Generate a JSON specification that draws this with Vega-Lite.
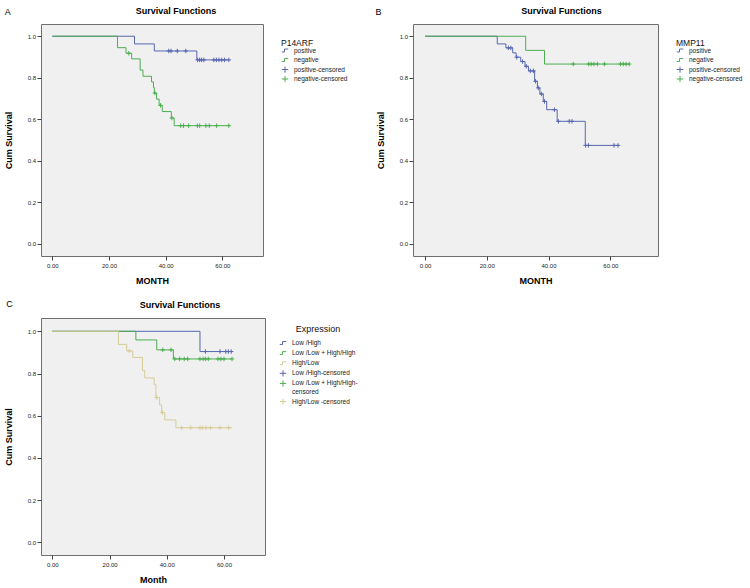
{
  "$schema": "https://vega.github.io/schema/vega-lite/v6.json",
  "autosize": {"type": "none"},
  "padding": {"left": 41, "top": 24, "right": 709, "bottom": 564},
  "background": "white",
  "bounds": "flush",
  "columns": 2,
  "spacing": {"row": 62, "column": 148},
  "config": {
    "font": "Liberation Sans",
    "view": {"fill": "#f0f0f0", "stroke": "#6e6e6e", "strokeWidth": 1},
    "axis": {"domain": false, "grid": false, "ticks": true, "tickSize": 4, "tickColor": "#444444", "labelFontSize": 6, "labelColor": "#222222", "labelPadding": 1.5, "titleFontSize": 9, "titleFontWeight": "bold", "titleColor": "#000000"},
    "axisY": {"titlePadding": 14},
    "axisX": {"titlePadding": 8, "labelPadding": 2},
    "title": {"fontSize": 9, "fontWeight": "bold", "color": "#000000", "anchor": "middle"},
    "legend": {"labelFontSize": 6.5, "titleFontSize": 8.5, "titleFontWeight": "normal", "labelColor": "#222222", "titleColor": "#111111", "symbolStrokeWidth": 1, "symbolSize": 42, "rowPadding": 2.5, "labelOffset": 5, "orient": "right", "padding": 15, "offset": 2.7, "titlePadding": 0, "clipHeight": 6}
  },
  "datasets": {
    "A_steps": [
      {"t": 0, "s": 1, "g": "positive"}, {"t": 29, "s": 0.963, "g": "positive"}, {"t": 36, "s": 0.929, "g": "positive"}, {"t": 51, "s": 0.886, "g": "positive"}, {"t": 62.3, "s": 0.886, "g": "positive"},
      {"t": 0, "s": 1, "g": "negative"}, {"t": 23, "s": 0.945, "g": "negative"}, {"t": 26, "s": 0.918, "g": "negative"}, {"t": 28, "s": 0.891, "g": "negative"}, {"t": 31, "s": 0.837, "g": "negative"}, {"t": 32, "s": 0.807, "g": "negative"}, {"t": 35, "s": 0.78, "g": "negative"}, {"t": 35.7, "s": 0.753, "g": "negative"}, {"t": 36, "s": 0.726, "g": "negative"}, {"t": 36.8, "s": 0.697, "g": "negative"}, {"t": 37.7, "s": 0.667, "g": "negative"}, {"t": 38.8, "s": 0.637, "g": "negative"}, {"t": 42, "s": 0.606, "g": "negative"}, {"t": 43, "s": 0.569, "g": "negative"}, {"t": 62.3, "s": 0.569, "g": "negative"}
    ],
    "A_cens": [
      {"t": 41.1, "s": 0.929, "g": "positive-censored"}, {"t": 41.9, "s": 0.929, "g": "positive-censored"}, {"t": 44.1, "s": 0.929, "g": "positive-censored"}, {"t": 47.1, "s": 0.929, "g": "positive-censored"},
      {"t": 51.3, "s": 0.886, "g": "positive-censored"}, {"t": 52, "s": 0.886, "g": "positive-censored"}, {"t": 52.7, "s": 0.886, "g": "positive-censored"}, {"t": 53.5, "s": 0.886, "g": "positive-censored"}, {"t": 57, "s": 0.886, "g": "positive-censored"}, {"t": 57.9, "s": 0.886, "g": "positive-censored"}, {"t": 58.8, "s": 0.886, "g": "positive-censored"}, {"t": 59.8, "s": 0.886, "g": "positive-censored"}, {"t": 60.8, "s": 0.886, "g": "positive-censored"}, {"t": 62.3, "s": 0.886, "g": "positive-censored"},
      {"t": 27, "s": 0.918, "g": "negative-censored"}, {"t": 36.2, "s": 0.726, "g": "negative-censored"}, {"t": 38.2, "s": 0.667, "g": "negative-censored"}, {"t": 42.2, "s": 0.606, "g": "negative-censored"},
      {"t": 45.3, "s": 0.569, "g": "negative-censored"}, {"t": 46.3, "s": 0.569, "g": "negative-censored"}, {"t": 48.1, "s": 0.569, "g": "negative-censored"}, {"t": 51.2, "s": 0.569, "g": "negative-censored"}, {"t": 52, "s": 0.569, "g": "negative-censored"}, {"t": 54.2, "s": 0.569, "g": "negative-censored"}, {"t": 55.4, "s": 0.569, "g": "negative-censored"}, {"t": 58, "s": 0.569, "g": "negative-censored"}, {"t": 62.3, "s": 0.569, "g": "negative-censored"}
    ],
    "B_steps": [
      {"t": 0, "s": 1, "g": "positive"}, {"t": 23.4, "s": 0.963, "g": "positive"}, {"t": 26.2, "s": 0.944, "g": "positive"}, {"t": 28.4, "s": 0.92, "g": "positive"}, {"t": 29.5, "s": 0.899, "g": "positive"}, {"t": 31, "s": 0.878, "g": "positive"}, {"t": 32.4, "s": 0.855, "g": "positive"}, {"t": 33.5, "s": 0.833, "g": "positive"}, {"t": 35.5, "s": 0.783, "g": "positive"}, {"t": 36.4, "s": 0.751, "g": "positive"}, {"t": 37.2, "s": 0.722, "g": "positive"}, {"t": 38.3, "s": 0.686, "g": "positive"}, {"t": 39.4, "s": 0.646, "g": "positive"}, {"t": 42.8, "s": 0.59, "g": "positive"}, {"t": 51.9, "s": 0.474, "g": "positive"}, {"t": 62.8, "s": 0.474, "g": "positive"},
      {"t": 0, "s": 1, "g": "negative"}, {"t": 32.6, "s": 0.932, "g": "negative"}, {"t": 38.7, "s": 0.866, "g": "negative"}, {"t": 66.3, "s": 0.866, "g": "negative"}
    ],
    "B_cens": [
      {"t": 27, "s": 0.944, "g": "positive-censored"}, {"t": 27.8, "s": 0.944, "g": "positive-censored"}, {"t": 29.7, "s": 0.899, "g": "positive-censored"}, {"t": 31.6, "s": 0.878, "g": "positive-censored"}, {"t": 32.8, "s": 0.855, "g": "positive-censored"}, {"t": 34.1, "s": 0.833, "g": "positive-censored"}, {"t": 35.1, "s": 0.833, "g": "positive-censored"}, {"t": 35.8, "s": 0.783, "g": "positive-censored"}, {"t": 36.7, "s": 0.751, "g": "positive-censored"}, {"t": 37.7, "s": 0.722, "g": "positive-censored"}, {"t": 38.7, "s": 0.686, "g": "positive-censored"}, {"t": 41.9, "s": 0.646, "g": "positive-censored"}, {"t": 43.2, "s": 0.59, "g": "positive-censored"}, {"t": 46.7, "s": 0.59, "g": "positive-censored"}, {"t": 47.6, "s": 0.59, "g": "positive-censored"}, {"t": 52, "s": 0.474, "g": "positive-censored"}, {"t": 52.9, "s": 0.474, "g": "positive-censored"}, {"t": 61.2, "s": 0.474, "g": "positive-censored"}, {"t": 62.5, "s": 0.474, "g": "positive-censored"},
      {"t": 48, "s": 0.866, "g": "negative-censored"}, {"t": 53, "s": 0.866, "g": "negative-censored"}, {"t": 53.8, "s": 0.866, "g": "negative-censored"}, {"t": 54.7, "s": 0.866, "g": "negative-censored"}, {"t": 55.8, "s": 0.866, "g": "negative-censored"}, {"t": 58.1, "s": 0.866, "g": "negative-censored"}, {"t": 63.3, "s": 0.866, "g": "negative-censored"}, {"t": 64.2, "s": 0.866, "g": "negative-censored"}, {"t": 65.1, "s": 0.866, "g": "negative-censored"}, {"t": 66.1, "s": 0.866, "g": "negative-censored"}
    ],
    "C_steps": [
      {"t": 0, "s": 1, "g": "Low /High"}, {"t": 51.6, "s": 0.904, "g": "Low /High"}, {"t": 62.7, "s": 0.904, "g": "Low /High"},
      {"t": 0, "s": 1, "g": "Low /Low + High/High"}, {"t": 29.2, "s": 0.959, "g": "Low /Low + High/High"}, {"t": 36.5, "s": 0.912, "g": "Low /Low + High/High"}, {"t": 42.3, "s": 0.869, "g": "Low /Low + High/High"}, {"t": 62.9, "s": 0.869, "g": "Low /Low + High/High"},
      {"t": 0, "s": 1, "g": "High/Low"}, {"t": 23.1, "s": 0.938, "g": "High/Low"}, {"t": 26, "s": 0.907, "g": "High/Low"}, {"t": 28.1, "s": 0.876, "g": "High/Low"}, {"t": 31.5, "s": 0.814, "g": "High/Low"}, {"t": 32.3, "s": 0.779, "g": "High/Low"}, {"t": 35.6, "s": 0.748, "g": "High/Low"}, {"t": 36.2, "s": 0.686, "g": "High/Low"}, {"t": 37.5, "s": 0.651, "g": "High/Low"}, {"t": 38.2, "s": 0.615, "g": "High/Low"}, {"t": 39.3, "s": 0.58, "g": "High/Low"}, {"t": 43.2, "s": 0.543, "g": "High/Low"}, {"t": 62.8, "s": 0.543, "g": "High/Low"}
    ],
    "C_cens": [
      {"t": 53.5, "s": 0.904, "g": "Low /High-censored"}, {"t": 58.6, "s": 0.904, "g": "Low /High-censored"}, {"t": 60.6, "s": 0.904, "g": "Low /High-censored"}, {"t": 61.5, "s": 0.904, "g": "Low /High-censored"}, {"t": 62.5, "s": 0.904, "g": "Low /High-censored"},
      {"t": 38.6, "s": 0.912, "g": "Low /Low + High/High-censored"}, {"t": 41.5, "s": 0.912, "g": "Low /Low + High/High-censored"}, {"t": 42.8, "s": 0.869, "g": "Low /Low + High/High-censored"}, {"t": 44.5, "s": 0.869, "g": "Low /Low + High/High-censored"}, {"t": 46.1, "s": 0.869, "g": "Low /Low + High/High-censored"}, {"t": 47.3, "s": 0.869, "g": "Low /Low + High/High-censored"}, {"t": 51.6, "s": 0.869, "g": "Low /Low + High/High-censored"}, {"t": 52.7, "s": 0.869, "g": "Low /Low + High/High-censored"}, {"t": 53.5, "s": 0.869, "g": "Low /Low + High/High-censored"}, {"t": 54.5, "s": 0.869, "g": "Low /Low + High/High-censored"}, {"t": 57.9, "s": 0.869, "g": "Low /Low + High/High-censored"}, {"t": 58.9, "s": 0.869, "g": "Low /Low + High/High-censored"}, {"t": 60, "s": 0.869, "g": "Low /Low + High/High-censored"}, {"t": 62.8, "s": 0.869, "g": "Low /Low + High/High-censored"},
      {"t": 26.9, "s": 0.907, "g": "High/Low -censored"}, {"t": 36.5, "s": 0.686, "g": "High/Low -censored"}, {"t": 38.5, "s": 0.615, "g": "High/Low -censored"}, {"t": 45.2, "s": 0.543, "g": "High/Low -censored"}, {"t": 48.4, "s": 0.543, "g": "High/Low -censored"}, {"t": 51.6, "s": 0.543, "g": "High/Low -censored"}, {"t": 52.4, "s": 0.543, "g": "High/Low -censored"}, {"t": 53.7, "s": 0.543, "g": "High/Low -censored"}, {"t": 55.3, "s": 0.543, "g": "High/Low -censored"}, {"t": 58.6, "s": 0.543, "g": "High/Low -censored"}, {"t": 61.6, "s": 0.543, "g": "High/Low -censored"}
    ]
  },
  "concat": [
    {
      "width": 222, "height": 232,
      "title": {"text": "Survival Functions", "dx": 24, "offset": -8.2},
      "layer": [
        {"data": {"name": "A_steps"}, "mark": {"type": "line", "interpolate": "step-after", "strokeWidth": 1},
         "encoding": {
           "x": {"field": "t", "type": "quantitative", "scale": {"domain": [-4, 74.36], "nice": false, "zero": false}, "axis": {"values": [0, 20, 40, 60], "format": ".2f", "title": "MONTH"}},
           "y": {"field": "s", "type": "quantitative", "scale": {"domain": [-0.059, 1.059], "nice": false, "zero": false}, "axis": {"values": [0, 0.2, 0.4, 0.6, 0.8, 1], "format": ".1f", "title": "Cum Survival"}},
           "stroke": {"field": "g", "type": "nominal", "scale": {"domain": ["positive", "negative"], "range": ["#5767b0", "#4cae50"]}, "legend": null}}},
        {"data": {"name": "A_cens"}, "mark": {"type": "point", "filled": false, "size": 20, "strokeWidth": 1, "opacity": 1},
         "encoding": {
           "x": {"field": "t", "type": "quantitative", "axis": {"values": [0, 20, 40, 60], "format": ".2f", "title": "MONTH"}},
           "y": {"field": "s", "type": "quantitative", "axis": {"values": [0, 0.2, 0.4, 0.6, 0.8, 1], "format": ".1f", "title": "Cum Survival"}},
           "color": {"field": "g", "type": "nominal", "scale": {"domain": ["positive", "negative", "positive-censored", "negative-censored"], "range": ["#5767b0", "#4cae50", "#5767b0", "#4cae50"]}, "legend": {"title": "\u00a0\u00a0\u00a0P14ARF", "encode": {"symbols": {"update": {"size": {"value": 42}}}}}},
           "shape": {"field": "g", "type": "nominal", "scale": {"domain": ["positive", "negative", "positive-censored", "negative-censored"], "range": ["M-1,0.45H-0.15V-0.45H1", "M-1,0.45H-0.15V-0.45H1", "M-1,0H1M0,-1V1", "M-1,0H1M0,-1V1"]}, "legend": {"title": "\u00a0\u00a0\u00a0P14ARF", "encode": {"symbols": {"update": {"size": {"value": 42}}}}}}
         }},
        {"data": {"values": [{"lbl": "A"}]}, "mark": {"type": "text", "fontSize": 9, "align": "center", "baseline": "middle", "color": "#000000", "clip": false},
         "encoding": {
           "x": {"datum": -15.7, "type": "quantitative", "axis": {"values": [0, 20, 40, 60], "format": ".2f", "title": "MONTH"}},
           "y": {"datum": 1.116, "type": "quantitative", "axis": {"values": [0, 0.2, 0.4, 0.6, 0.8, 1], "format": ".1f", "title": "Cum Survival"}},
           "text": {"field": "lbl", "type": "nominal"}}}
      ]
    },
    {
      "width": 245, "height": 232,
      "title": {"text": "Survival Functions", "dx": 26, "offset": -8.2},
      "layer": [
        {"data": {"name": "B_steps"}, "mark": {"type": "line", "interpolate": "step-after", "strokeWidth": 1},
         "encoding": {
           "x": {"field": "t", "type": "quantitative", "scale": {"domain": [-3.886, 75.45], "nice": false, "zero": false}, "axis": {"values": [0, 20, 40, 60], "format": ".2f", "title": "MONTH"}},
           "y": {"field": "s", "type": "quantitative", "scale": {"domain": [-0.059, 1.059], "nice": false, "zero": false}, "axis": {"values": [0, 0.2, 0.4, 0.6, 0.8, 1], "format": ".1f", "title": "Cum Survival"}},
           "stroke": {"field": "g", "type": "nominal", "scale": {"domain": ["positive", "negative"], "range": ["#5767b0", "#4cae50"]}, "legend": null}}},
        {"data": {"name": "B_cens"}, "mark": {"type": "point", "filled": false, "size": 20, "strokeWidth": 1, "opacity": 1},
         "encoding": {
           "x": {"field": "t", "type": "quantitative", "axis": {"values": [0, 20, 40, 60], "format": ".2f", "title": "MONTH"}},
           "y": {"field": "s", "type": "quantitative", "axis": {"values": [0, 0.2, 0.4, 0.6, 0.8, 1], "format": ".1f", "title": "Cum Survival"}},
           "color": {"field": "g", "type": "nominal", "scale": {"domain": ["positive", "negative", "positive-censored", "negative-censored"], "range": ["#5767b0", "#4cae50", "#5767b0", "#4cae50"]}, "legend": {"title": "\u00a0\u00a0\u00a0MMP11", "encode": {"symbols": {"update": {"size": {"value": 42}}}}}},
           "shape": {"field": "g", "type": "nominal", "scale": {"domain": ["positive", "negative", "positive-censored", "negative-censored"], "range": ["M-1,0.45H-0.15V-0.45H1", "M-1,0.45H-0.15V-0.45H1", "M-1,0H1M0,-1V1", "M-1,0H1M0,-1V1"]}, "legend": {"title": "\u00a0\u00a0\u00a0MMP11", "encode": {"symbols": {"update": {"size": {"value": 42}}}}}}
         }},
        {"data": {"values": [{"lbl": "B"}]}, "mark": {"type": "text", "fontSize": 9, "align": "center", "baseline": "middle", "color": "#000000", "clip": false},
         "encoding": {
           "x": {"datum": -15.06, "type": "quantitative", "axis": {"values": [0, 20, 40, 60], "format": ".2f", "title": "MONTH"}},
           "y": {"datum": 1.116, "type": "quantitative", "axis": {"values": [0, 0.2, 0.4, 0.6, 0.8, 1], "format": ".1f", "title": "Cum Survival"}},
           "text": {"field": "lbl", "type": "nominal"}}}
      ]
    },
    {
      "width": 224, "height": 237,
      "title": {"text": "Survival Functions", "dx": 27, "offset": -10.1},
      "layer": [
        {"data": {"name": "C_steps"}, "mark": {"type": "line", "interpolate": "step-after", "strokeWidth": 1},
         "encoding": {
           "x": {"field": "t", "type": "quantitative", "scale": {"domain": [-3.95, 74.32], "nice": false, "zero": false}, "axis": {"values": [0, 20, 40, 60], "format": ".2f", "title": "Month"}},
           "y": {"field": "s", "type": "quantitative", "scale": {"domain": [-0.06, 1.063], "nice": false, "zero": false}, "axis": {"values": [0, 0.2, 0.4, 0.6, 0.8, 1], "format": ".1f", "title": "Cum Survival"}},
           "stroke": {"field": "g", "type": "nominal", "scale": {"domain": ["Low /High", "Low /Low + High/High", "High/Low"], "range": ["#5767b0", "#4cae50", "#d6cc96"]}, "legend": null}}},
        {"data": {"name": "C_cens"}, "mark": {"type": "point", "filled": false, "size": 20, "strokeWidth": 1, "opacity": 1},
         "encoding": {
           "x": {"field": "t", "type": "quantitative", "axis": {"values": [0, 20, 40, 60], "format": ".2f", "title": "Month"}},
           "y": {"field": "s", "type": "quantitative", "axis": {"values": [0, 0.2, 0.4, 0.6, 0.8, 1], "format": ".1f", "title": "Cum Survival"}},
           "color": {"field": "g", "type": "nominal", "scale": {"domain": ["Low /High", "Low /Low + High/High", "High/Low", "Low /High-censored", "Low /Low + High/High-censored", "High/Low -censored"], "range": ["#5767b0", "#4cae50", "#d6cc96", "#5767b0", "#4cae50", "#d6cc96"]},
             "legend": {"title": "Expression", "padding": 7, "offset": 7.3, "titlePadding": 6, "titleAnchor": "middle", "titleAlign": "center", "titleFontSize": 9, "rowPadding": 3.1, "labelExpr": "datum.label == 'Low /Low + High/High-censored' ? ['Low /Low + High/High-', 'censored'] : datum.label", "encode": {"symbols": {"update": {"size": {"value": 42}}}}}},
           "shape": {"field": "g", "type": "nominal", "scale": {"domain": ["Low /High", "Low /Low + High/High", "High/Low", "Low /High-censored", "Low /Low + High/High-censored", "High/Low -censored"], "range": ["M-1,0.45H-0.15V-0.45H1", "M-1,0.45H-0.15V-0.45H1", "M-1,0.45H-0.15V-0.45H1", "M-1,0H1M0,-1V1", "M-1,0H1M0,-1V1", "M-1,0H1M0,-1V1"]},
             "legend": {"title": "Expression", "padding": 7, "offset": 7.3, "titlePadding": 6, "titleAnchor": "middle", "titleAlign": "center", "titleFontSize": 9, "rowPadding": 3.1, "labelExpr": "datum.label == 'Low /Low + High/High-censored' ? ['Low /Low + High/High-', 'censored'] : datum.label", "encode": {"symbols": {"update": {"size": {"value": 42}}}}}}
         }},
        {"data": {"values": [{"lbl": "C"}]}, "mark": {"type": "text", "fontSize": 9, "align": "center", "baseline": "middle", "color": "#000000", "clip": false},
         "encoding": {
           "x": {"datum": -15.0, "type": "quantitative", "axis": {"values": [0, 20, 40, 60], "format": ".2f", "title": "Month"}},
           "y": {"datum": 1.128, "type": "quantitative", "axis": {"values": [0, 0.2, 0.4, 0.6, 0.8, 1], "format": ".1f", "title": "Cum Survival"}},
           "text": {"field": "lbl", "type": "nominal"}}}
      ]
    }
  ],
  "resolve": {
    "scale": {"x": "independent", "y": "independent", "color": "independent", "shape": "independent", "stroke": "independent"},
    "legend": {"color": "independent", "shape": "independent"}
  }
}
